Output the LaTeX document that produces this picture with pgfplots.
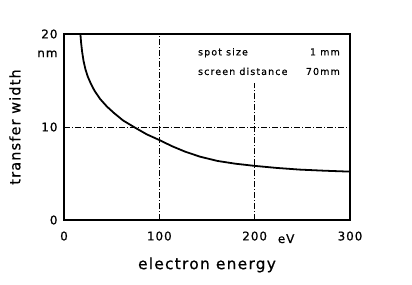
\documentclass[border=0pt]{standalone}
\usepackage{pgfplots}
\pgfplotsset{compat=1.18}
\usepackage{fontspec}
\setmainfont{DejaVu Sans}
\newfontfamily\spfont[LetterSpace=8,FakeBold=0.6]{DejaVu Sans}
\newfontfamily\smfont[LetterSpace=12,FakeBold=0.5]{DejaVu Sans}
\begin{document}
\begin{tikzpicture}[x=1bp,y=1bp]
\path (0,0) rectangle (412,285);
\begin{axis}[
  at={(64bp,65bp)}, anchor=origin,
  scale only axis, width=286bp, height=186bp,
  xmin=0, xmax=300, ymin=0, ymax=20,
  xtick={0,100,200,300}, ytick={0,10,20},
  major tick length=0pt,
  axis line style={line width=1.1pt},
  /pgf/number format/assume math mode=true,
  tick label style={font=\fontsize{12}{14}\selectfont\spfont},
  xticklabel style={yshift=-8bp},
  yticklabel style={xshift=-3bp},
  xlabel={electron energy},
  ylabel={transfer width},
  xlabel style={font=\fontsize{15.5}{17}\selectfont\spfont, yshift=-10bp},
  ylabel style={font=\fontsize{14.5}{17}\selectfont\spfont, yshift=14bp},
  clip=false,
]
\addplot[black, line width=1.8pt] coordinates {
 (17.2,20) (18.0,19.0) (19.0,18.1) (20.5,17.1) (22.5,16.2) (25,15.4) (28,14.7)
 (32,13.9) (38,13.0) (45,12.2) (52.5,11.5) (62,10.7) (75,9.9) (87,9.2) (100,8.6)
 (113,7.95) (127,7.35) (143,6.8) (161,6.35) (180,6.05) (200,5.82) (223,5.6)
 (247,5.42) (273,5.3) (300,5.2)
};
\draw[black, line width=0.6pt, dash pattern=on 6pt off 2pt on 1pt off 2pt] (axis cs:0,10) -- (axis cs:300,10);
\draw[black, line width=0.6pt, dash pattern=on 6pt off 2pt on 1pt off 2pt] (axis cs:100,0) -- (axis cs:100,20);
\draw[black, line width=0.6pt, dash pattern=on 6pt off 2pt on 1pt off 2pt] (axis cs:200,0) -- (axis cs:200,14.8);
\node[font=\fontsize{12}{14}\selectfont\spfont, anchor=north east] at (axis cs:0,20) [xshift=-3bp, yshift=-13bp] {nm};
\node[font=\fontsize{12}{14}\selectfont\spfont, anchor=base] at (axis cs:233,0) [yshift=-23bp] {eV};
\node[font=\fontsize{9.5}{11}\selectfont\smfont, anchor=base west] at (axis cs:137,17.7) {spot size};
\node[font=\fontsize{9.5}{11}\selectfont\smfont, anchor=base east] at (axis cs:293,17.7) {1 mm};
\node[font=\fontsize{9.5}{11}\selectfont\smfont, anchor=base west] at (axis cs:137,15.6) {screen distance};
\node[font=\fontsize{9.5}{11}\selectfont\smfont, anchor=base east] at (axis cs:293,15.6) {70mm};
\end{axis}
\end{tikzpicture}
\end{document}
